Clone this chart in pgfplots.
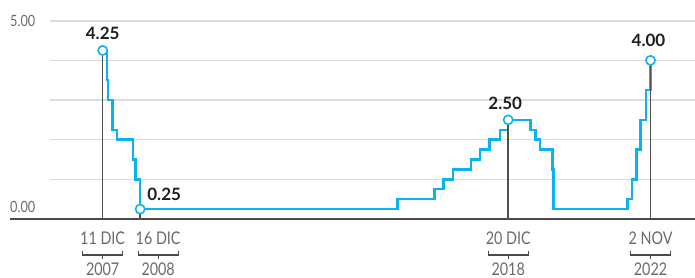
\documentclass[border=0pt]{standalone}
\usepackage{pgfplots}
\pgfplotsset{compat=1.18}
\usepackage{fontspec}
\setmainfont{Lato}[FakeStretch=0.82]
\newfontfamily\valfont{Lato}
\definecolor{fedblue}{HTML}{0BB3EC}
\definecolor{gridgray}{HTML}{DCDCDC}
\definecolor{axisgray}{HTML}{4A4A4A}
\definecolor{vgray}{HTML}{505050}
\definecolor{txtgray}{HTML}{6A6A6A}
\definecolor{valcol}{HTML}{1E1E1E}
% #1 x position, #2 horizontal offset of the label group, #3 date, #4 year
\newcommand{\datelab}[4]{%
  \node[text=txtgray, font=\fontsize{17.5}{17.5}\selectfont, xshift=#2, yshift=-19.5pt] at (axis cs:#1,0) {#3};
  \node[text=txtgray, font=\fontsize{17.5}{17.5}\selectfont, xshift=#2, yshift=-50pt] at (axis cs:#1,0) {#4};
  \draw[axisgray, line width=1.3pt] ([xshift=#2-20pt,yshift=-32pt]axis cs:#1,0) -- ([xshift=#2-20pt,yshift=-36pt]axis cs:#1,0) -- ([xshift=#2+20pt,yshift=-36pt]axis cs:#1,0) -- ([xshift=#2+20pt,yshift=-32pt]axis cs:#1,0);
  \draw[axisgray, line width=1.3pt] ([xshift=#2,yshift=-36pt]axis cs:#1,0) -- ([xshift=#2,yshift=-39.5pt]axis cs:#1,0);}
\begin{document}
\begin{tikzpicture}
\useasboundingbox (0,0) rectangle (695pt,278pt);
\begin{axis}[at={(10pt,59pt)}, anchor=south west, scale only axis,
  width=685pt, height=198.25pt,
  xmin=5.42, xmax=24.05, ymin=0, ymax=5,
  axis lines=none, clip=false]
% gridlines
\draw[gridgray, line width=1.6pt] (axis cs:6.51,1) -- (axis cs:24.05,1);
\draw[gridgray, line width=1.6pt] (axis cs:6.51,2) -- (axis cs:24.05,2);
\draw[gridgray, line width=1.6pt] (axis cs:6.51,3) -- (axis cs:24.05,3);
\draw[gridgray, line width=1.6pt] (axis cs:6.51,4) -- (axis cs:24.05,4);
\draw[gridgray, line width=1.6pt] (axis cs:6.51,5) -- (axis cs:24.05,5);
% baseline
\draw[axisgray, line width=2.4pt] (axis cs:5.42,0) -- (axis cs:24.05,0);
% tick labels
\node[anchor=west, text=txtgray, font=\fontsize{15.5}{15.5}\selectfont, inner sep=0pt] at (axis cs:5.42,5) {5.00};
\node[anchor=west, text=txtgray, font=\fontsize{15.5}{15.5}\selectfont, inner sep=0pt, yshift=12pt] at (axis cs:5.42,0) {0.00};
% rate series (x = year - 2000)
\addplot[const plot, fedblue, line width=2.4pt] coordinates {
(7.94,4.25) (8.06,3.5) (8.08,3.0) (8.21,2.25) (8.33,2.0)
(8.77,1.5) (8.83,1.0) (8.96,0.25) (15.96,0.5) (16.96,0.75)
(17.21,1.0) (17.46,1.25) (17.96,1.5) (18.21,1.75) (18.46,2.0)
(18.74,2.25) (18.97,2.5) (19.58,2.25) (19.71,2.0) (19.83,1.75)
(20.17,1.25) (20.20,0.25) (22.21,0.5) (22.34,1.0) (22.46,1.75)
(22.57,2.5) (22.72,3.25) (22.84,4.0)};
% vertical markers
\addplot[ycomb, draw=vgray, line width=1.5pt] coordinates {
(7.94,4.25) (8.96,0.25) (18.97,2.5) (22.84,4.0)};
\addplot[only marks, mark=*, mark size=4.6pt,
  mark options={fill=white, draw=fedblue, line width=1.6pt}] coordinates {
(7.94,4.25) (8.96,0.25) (18.97,2.5) (22.84,4.0)};
% value labels
\node[text=valcol, font=\valfont\bfseries\fontsize{17}{17}\selectfont, yshift=17pt] at (axis cs:7.94,4.25) {4.25};
\node[text=valcol, font=\valfont\bfseries\fontsize{17}{17}\selectfont, xshift=24pt, yshift=15pt] at (axis cs:8.96,0.25) {0.25};
\node[text=valcol, font=\valfont\bfseries\fontsize{17}{17}\selectfont, xshift=-3pt, yshift=17pt] at (axis cs:18.97,2.5) {2.50};
\node[text=valcol, font=\valfont\bfseries\fontsize{17}{17}\selectfont, xshift=-2pt, yshift=20pt] at (axis cs:22.84,4.0) {4.00};
% date labels
\datelab{7.94}{0pt}{11 DIC}{2007}
\datelab{8.96}{18pt}{16 DIC}{2008}
\datelab{18.97}{0pt}{20 DIC}{2018}
\datelab{22.84}{0pt}{2 NOV}{2022}
\end{axis}
\end{tikzpicture}
\end{document}
